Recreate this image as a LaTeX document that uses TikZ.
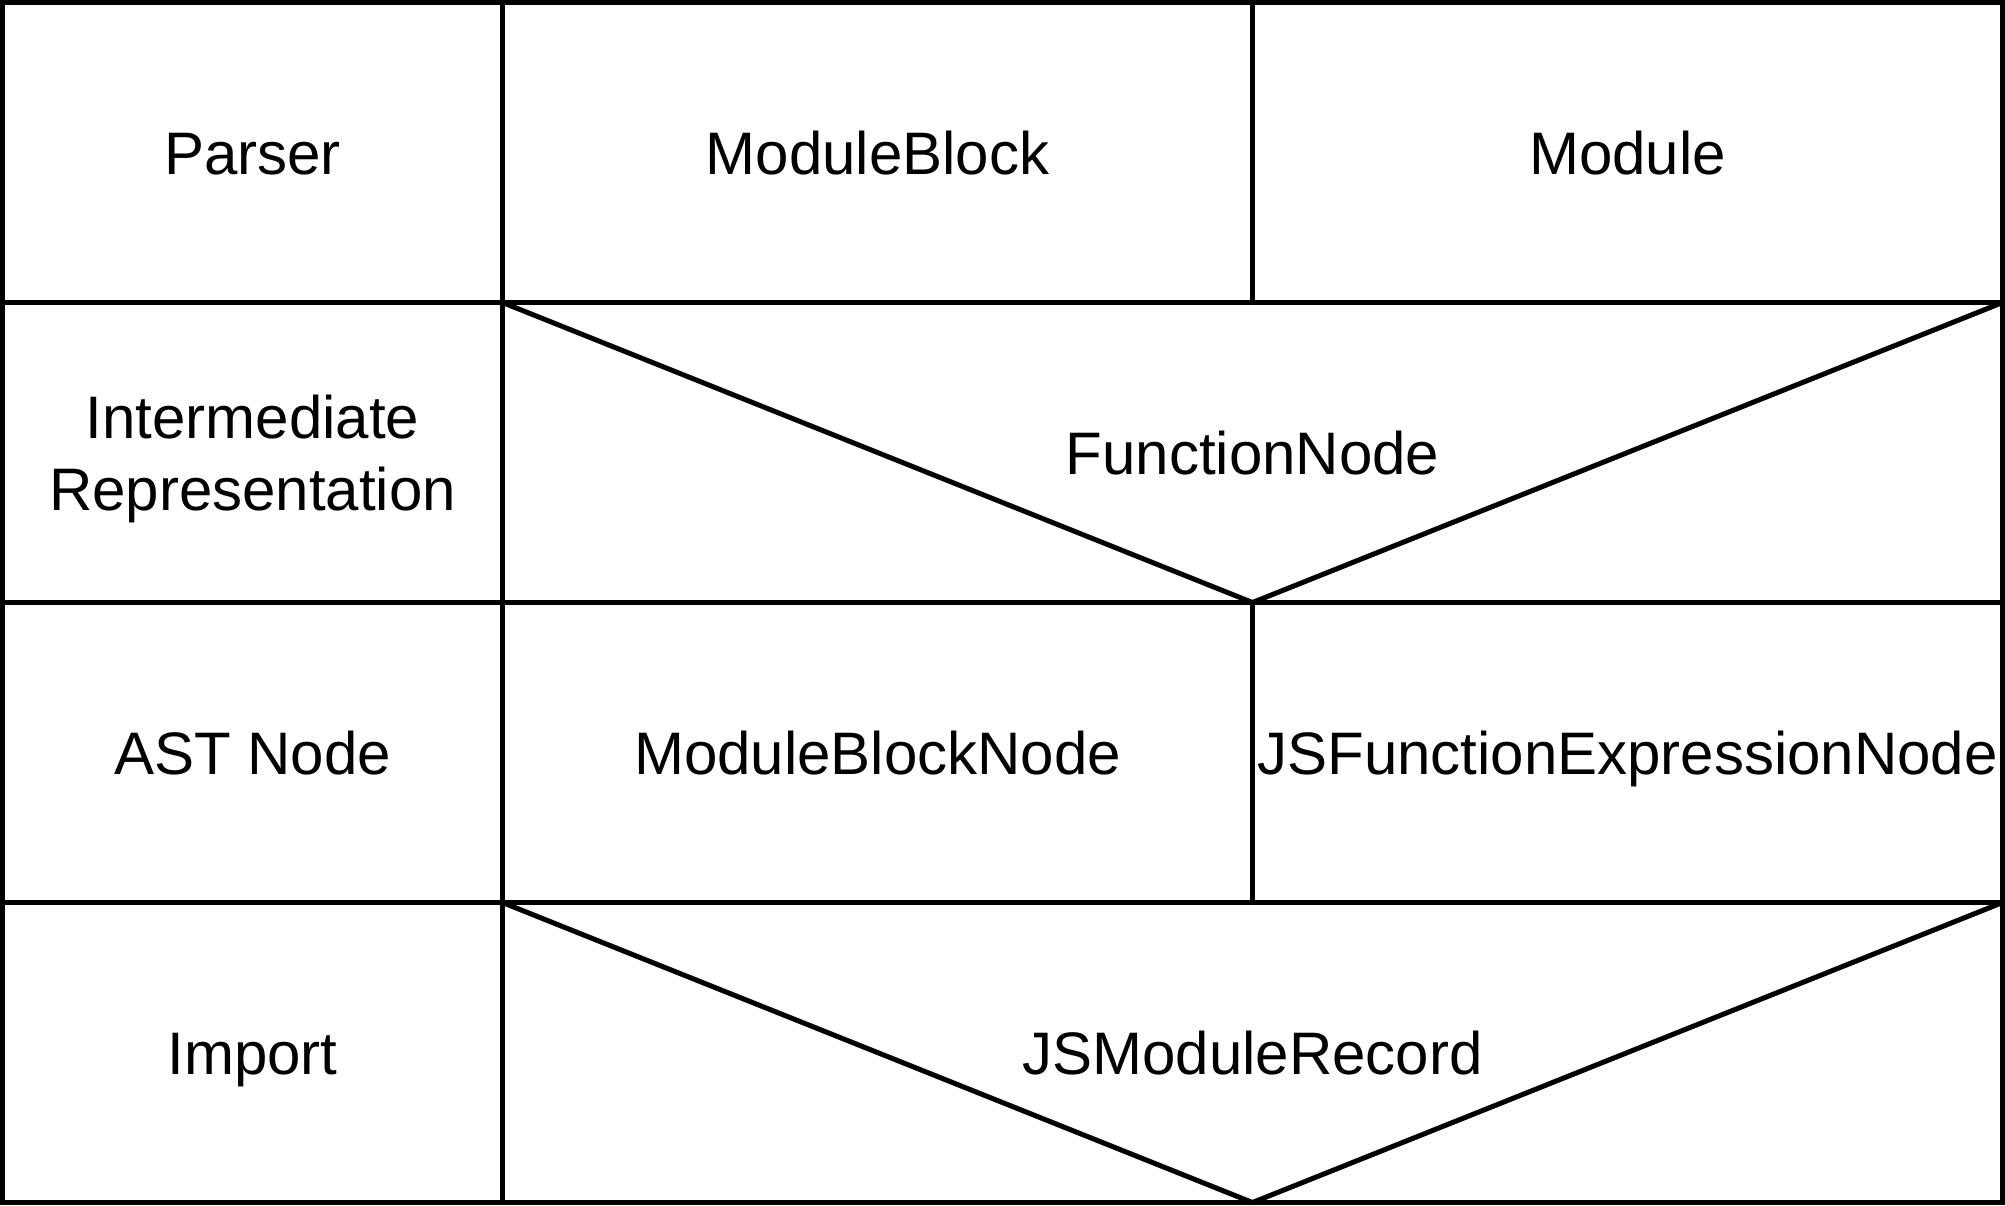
\documentclass[tikz,border=0pt]{standalone}
\usepackage{fontspec}
\setmainfont{Liberation Sans}
\begin{document}
\begin{tikzpicture}[x=1pt,y=-1pt,
  txt/.style={inner sep=0pt,outer sep=0pt,align=center,
    font=\fontsize{60}{72}\selectfont,text height=43pt,text depth=0pt},
  cell/.style={draw=black,line width=5pt,outer sep=0pt,inner sep=0pt,
    minimum height=300pt},
  lab/.style={cell,minimum width=500pt},
  half/.style={cell,minimum width=750pt},
  wide/.style={cell,minimum width=1500pt},
  vee/.style={line width=5pt,line join=miter}]
\useasboundingbox (0,0) rectangle (2005,1205);
% column 1
\node[lab] (parserbox) at (252.5,152.5) {};
\node[txt] (parser) at (parserbox.center) {Parser};
\node[lab] (irbox) at (252.5,452.5) {};
\node[txt,text height=115pt] (ir) at (irbox.center) {Intermediate\\Representation};
\node[lab] (astbox) at (252.5,752.5) {};
\node[txt] (ast) at (astbox.center) {AST Node};
\node[lab] (impbox) at (252.5,1052.5) {};
\node[txt] (imp) at (impbox.center) {Import};
% row 1
\node[half] (mbbox) at (877.5,152.5) {};
\node[txt] (mb) at (mbbox.center) {ModuleBlock};
\node[half] (modbox) at (1627.5,152.5) {};
\node[txt] (mod) at (modbox.center) {Module};
% row 2
\node[wide] (fnbox) at (1252.5,452.5) {};
\draw[vee] (fnbox.north west) -- (fnbox.south) -- (fnbox.north east);
\node[txt] (fn) at (fnbox.center) {FunctionNode};
% row 3
\node[half] (mbnbox) at (877.5,752.5) {};
\node[txt] (mbn) at (mbnbox.center) {ModuleBlockNode};
\node[half] (jsfbox) at (1627.5,752.5) {};
\node[txt] (jsf) at (jsfbox.center) {JSFunctionExpressionNode};
% row 4
\node[wide] (recbox) at (1252.5,1052.5) {};
\draw[vee] (recbox.north west) -- (recbox.south) -- (recbox.north east);
\node[txt] (rec) at (recbox.center) {JSModuleRecord};
\end{tikzpicture}
\end{document}
